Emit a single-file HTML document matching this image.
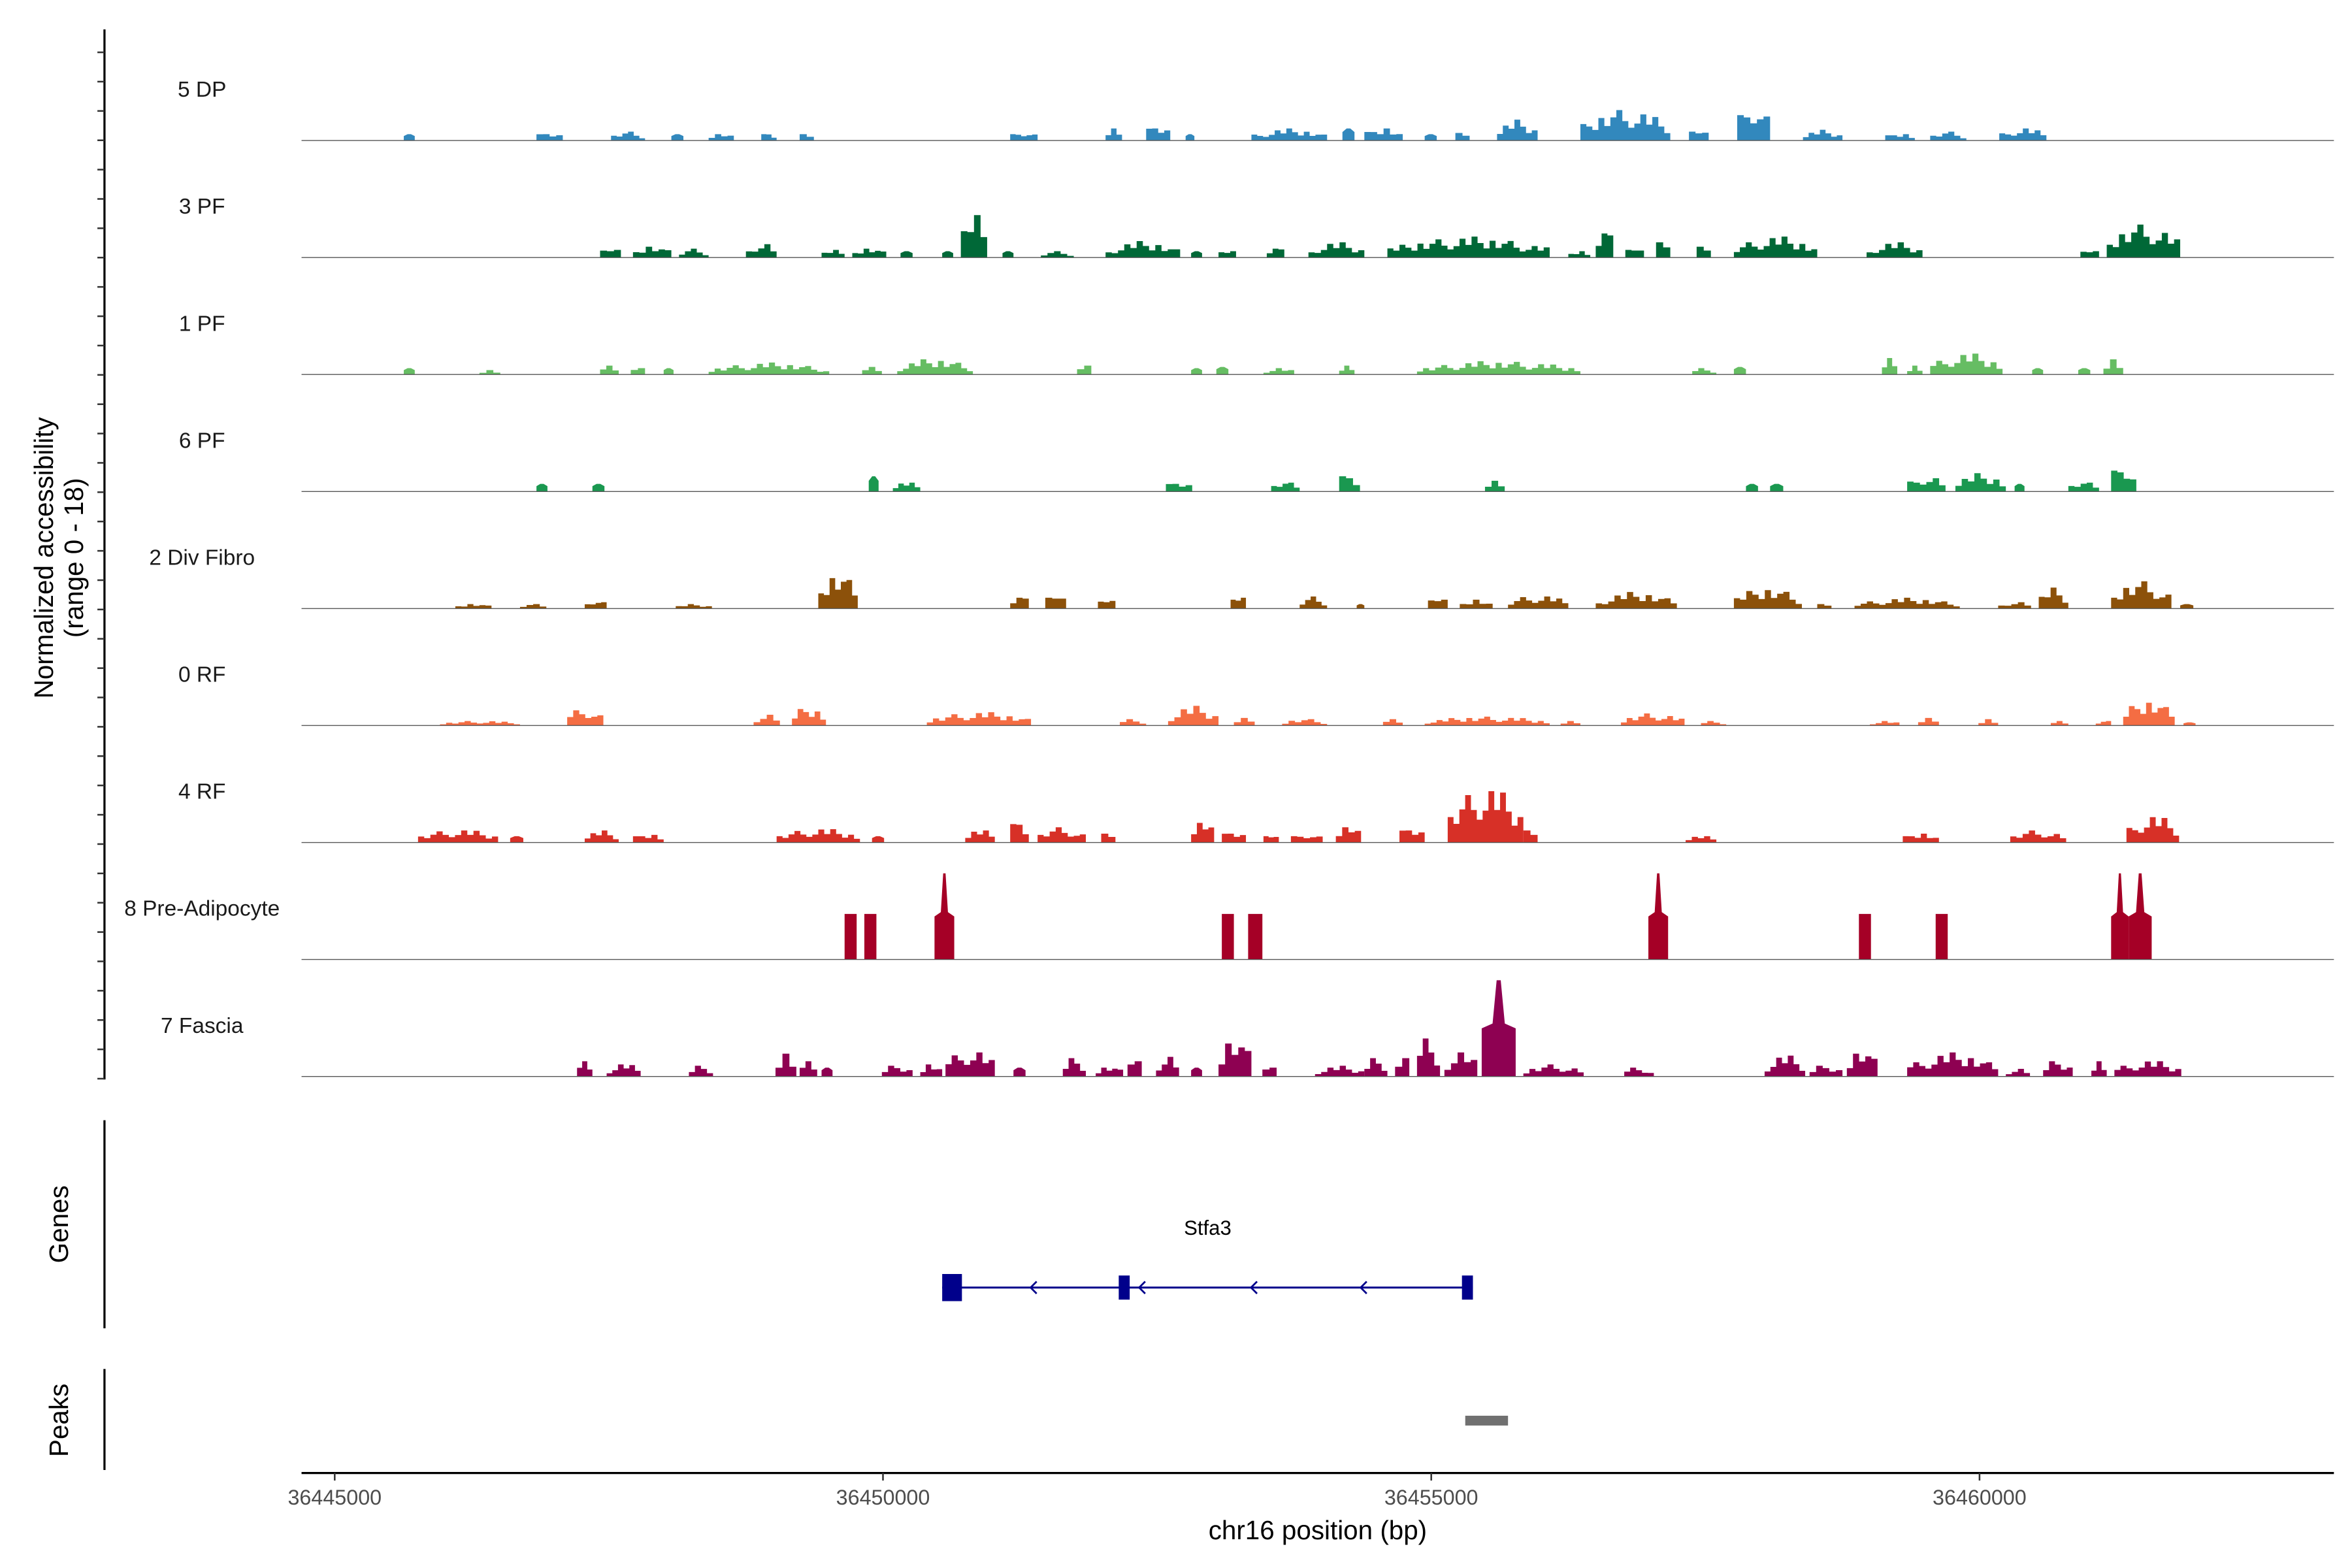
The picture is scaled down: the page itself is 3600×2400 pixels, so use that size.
<!DOCTYPE html>
<html><head><meta charset="utf-8"><style>
html,body{margin:0;padding:0;background:#fff}
svg{display:block;font-family:"Liberation Sans",Arial,sans-serif}
</style></head><body>
<svg id="chart" xmlns="http://www.w3.org/2000/svg" width="3600" height="2400" viewBox="0 0 1560 1040">
<rect x="0" y="0" width="1560" height="1040" fill="#fff"/>
<g id="tracks"></g>
<g id="axes"></g>
</svg>
<script>
// genomic positions in kb
const xTicks = [36445000, 36450000, 36455000, 36460000];
const trackNames = ["5 DP","3 PF","1 PF","6 PF","2 Div Fibro","0 RF","4 RF","8 Pre-Adipocyte","7 Fascia"];
const trackColors = ["#3288bd","#006837","#66bd63","#1a9850","#8c510a","#f46d43","#d73027","#a50026","#8e0152"];

const dpStarts = [36445.63,36446.84,36447.52,36448.07,36448.41,36448.89,36449.24,36451.16,36452.03,36452.40,36452.76,36453.36,36454.19,36454.39,36454.94,36455.22,36455.60,36456.36,36457.35,36457.79,36458.39,36459.14,36459.55,36460.18];
const dpEnds = [36445.73,36447.08,36447.83,36448.18,36448.64,36449.03,36449.37,36451.41,36452.18,36452.62,36452.84,36454.05,36454.30,36454.74,36455.05,36455.35,36455.97,36457.18,36457.53,36458.09,36458.75,36459.41,36459.88,36460.61];
const dpHeights = [1,1,1.4,1,1,1,1,1,1.9,1.9,1,1.9,1.9,1.9,1,1.2,3.3,4.8,1.4,4,1.7,1,1.4,1.9];

const pf3Starts = [36447.42,36447.72,36448.14,36448.75,36449.44,36449.72,36450.16,36450.54,36450.71,36451.09,36451.44,36452.03,36452.81,36453.06,36453.50,36453.88,36454.60,36456.25,36456.50,36456.77,36457.05,36457.42,36457.76,36458.97,36460.92,36461.16];
const pf3Ends = [36447.61,36448.07,36448.41,36449.03,36449.65,36450.03,36450.27,36450.64,36450.95,36451.19,36451.74,36452.71,36452.91,36453.22,36453.66,36454.39,36456.08,36456.45,36456.66,36456.94,36457.18,36457.55,36458.52,36459.48,36461.09,36461.83];
const pf3Heights = [1.2,1.7,1.4,2.1,1.2,1.4,1,1,6.7,1,1,2.6,1,1,1.4,2.4,3.3,1,3.8,1.2,2.4,1.7,3.3,2.4,1,5.2];

const pf1Starts = [36445.63,36446.32,36447.42,36447.70,36448.00,36448.41,36449.81,36450.13,36451.77,36452.81,36453.04,36453.47,36454.16,36454.87,36457.38,36457.76,36459.11,36459.34,36459.55,36460.48,36460.90,36461.13];
const pf1Ends = [36445.73,36446.51,36447.59,36447.83,36448.09,36449.51,36449.99,36450.82,36451.90,36452.91,36453.15,36453.75,36454.30,36456.36,36457.60,36457.87,36459.25,36459.48,36460.21,36460.58,36461.01,36461.31];
const pf1Heights = [1,0.7,1.4,1,1,1.9,1.2,2.4,1.4,1,1.2,1,1.4,2.1,1,1.2,2.6,1.4,3.3,1,1,2.4];

const pf6Starts = [36446.84,36447.35,36449.87,36450.09,36452.58,36453.54,36454.16,36455.49,36457.87,36458.09,36459.34,36459.78,36460.32,36460.81,36461.20];
const pf6Ends = [36446.94,36447.46,36449.96,36450.34,36452.82,36453.80,36454.35,36455.67,36457.98,36458.21,36459.69,36460.24,36460.41,36461.09,36461.43];
const pf6Heights = [1.2,1.2,2.4,1.4,1.2,1.4,2.4,1.7,1.2,1.2,2.1,2.9,1.2,1.4,3.3];

const dfStarts = [36446.10,36446.69,36447.28,36448.11,36449.41,36451.16,36451.48,36451.96,36453.17,36453.80,36454.32,36454.97,36455.26,36455.70,36456.50,36457.76,36458.52,36458.86,36460.17,36460.54,36461.20,36461.83];
const dfEnds = [36446.43,36446.93,36447.48,36448.44,36449.77,36451.33,36451.67,36452.12,36453.31,36454.05,36454.39,36455.15,36455.56,36456.25,36457.24,36458.38,36458.65,36459.82,36460.47,36460.81,36461.75,36461.95];
const dfHeights = [0.7,0.7,1,0.7,4.8,1.7,1.7,1.2,1.7,1.9,0.7,1.4,1.4,1.9,2.6,2.9,0.7,1.7,1,3.3,4.3,0.7];

const rf0Starts = [36445.96,36447.12,36448.82,36449.17,36450.40,36452.16,36452.60,36453.20,36453.64,36454.56,36454.94,36456.18,36456.73,36457.46,36459.00,36459.44,36459.99,36460.65,36461.06,36461.31,36461.86];
const rf0Ends = [36446.69,36447.45,36449.06,36449.48,36451.35,36452.40,36453.06,36453.39,36454.05,36454.74,36456.08,36456.36,36457.31,36457.69,36459.27,36459.63,36460.17,36460.81,36461.20,36461.78,36461.97];
const rf0Heights = [0.7,2.4,1.7,2.6,2.1,1,3.1,1.2,1,1,1.4,0.7,1.9,0.7,0.7,1.2,1,0.7,0.7,3.6,0.5];

const rf4Starts = [36445.76,36446.60,36447.28,36447.72,36449.03,36449.90,36450.75,36451.16,36451.41,36451.99,36452.81,36453.09,36453.47,36453.72,36454.13,36454.71,36455.15,36455.84,36457.32,36459.30,36460.28,36461.34];
const rf4Ends = [36446.49,36446.72,36447.59,36448.00,36449.79,36450.01,36451.02,36451.33,36451.85,36452.12,36453.02,36453.31,36453.61,36454.01,36454.36,36454.94,36455.84,36455.97,36457.60,36459.63,36460.79,36461.82];
const rf4Heights = [1.9,1,1.9,1.2,2.1,1,1.9,2.9,2.4,1.4,3.1,1.4,1,1,2.4,1.9,8.1,1.9,1,1.4,1.9,4];

const paStarts = [36449.65,36449.83,36450.47,36453.09,36453.33,36456.98,36458.90,36459.60,36461.20,36461.36];
const paEnds = [36449.76,36449.94,36450.65,36453.20,36453.46,36457.16,36459.01,36459.71,36461.36,36461.57];
const paHeights = [7.2,7.2,13.6,7.2,7.2,13.6,7.2,7.2,13.6,13.6];

const faStarts = [36447.21,36447.48,36448.23,36449.02,36449.24,36449.44,36449.99,36450.34,36450.57,36451.19,36451.64,36451.94,36452.23,36452.49,36452.81,36453.06,36453.46,36453.94,36454.39,36454.67,36454.87,36455.12,36455.46,36455.84,36456.76,36458.04,36458.45,36458.79,36459.34,36460.24,36460.58,36461.02,36461.23];
const faEnds = [36447.35,36447.79,36448.45,36449.21,36449.40,36449.54,36450.27,36450.54,36451.02,36451.30,36451.85,36452.19,36452.36,36452.70,36452.91,36453.36,36453.59,36454.39,36454.60,36454.80,36455.08,36455.42,36455.77,36456.39,36457.03,36458.41,36458.75,36459.07,36460.17,36460.46,36460.85,36461.16,36461.84];
const faHeights = [2.4,1.9,1.7,3.6,2.4,1.4,1.7,1.9,3.8,1.4,2.9,1.4,2.4,3.1,1.4,5.2,1.4,1.7,2.9,2.9,6,3.8,15.2,1.9,1.4,3.3,1.7,3.6,3.8,1.2,2.4,2.4,2.4];

const exonStarts = [36450.54, 36452.15, 36455.28];
const exonEnds = [36450.72, 36452.25, 36455.38];
const arrowPositions = [36451.36, 36452.35, 36453.37, 36454.37];
const peakStart = [36455.31];
const peakEnd = [36455.70];

const trackStarts = [dpStarts,pf3Starts,pf1Starts,pf6Starts,dfStarts,rf0Starts,rf4Starts,paStarts,faStarts];
const trackEnds = [dpEnds,pf3Ends,pf1Ends,pf6Ends,dfEnds,rf0Ends,rf4Ends,paEnds,faEnds];
const trackHeights = [dpHeights,pf3Heights,pf1Heights,pf6Heights,dfHeights,rf0Heights,rf4Heights,paHeights,faHeights];

// jagged outline style (shape only)
const TOOTH = [0.55,0.9,0.6,1,0.7,0.45,0.85,0.5,0.75,0.95,0.6,0.4];

const NS = "http://www.w3.org/2000/svg";
const X0 = 200, X1 = 1548;
function xScale(kb){ return 222 + (kb - 36445) * 72.73; }
function yUnit(v){ return v * 4.2; }
function baseY(i){ return 93.2 + i * 77.6; }
function mk(tag, attrs, parent){ const e = document.createElementNS(NS, tag); for (const k in attrs) e.setAttribute(k, attrs[k]); parent.appendChild(e); return e; }

const tg = document.getElementById('tracks');
const ax = document.getElementById('axes');

function profile(x0, x1, by, hp, big, flat, seed){
  const w = x1 - x0;
  if (big) {
    const edge = hp * 0.5, cx = (x0 + x1) / 2, tip = Math.max(0.5, w * 0.06);
    return [[x0,by],[x0,by-edge],[cx-tip*3,by-edge*1.1],[cx-tip,by-hp],[cx+tip,by-hp],[cx+tip*3,by-edge*1.1],[x1,by-edge],[x1,by]];
  }
  if (flat) return [[x0,by],[x0,by-hp],[x1,by-hp],[x1,by]];
  if (w < 9) return [[x0,by],[x0,by-hp*0.7],[x0+w*0.35,by-hp],[x1-w*0.35,by-hp],[x1,by-hp*0.7],[x1,by]];
  const n = Math.max(2, Math.round(w / 4));
  const pts = [[x0,by]];
  let vals = [];
  for (let j = 0; j < n; j++) {
    const f = (j + 0.5) / n;
    const taper = 0.45 + 0.55 * Math.sin(Math.PI * f);
    vals.push(TOOTH[(j + seed) % TOOTH.length] * taper);
  }
  const m = Math.max(...vals);
  for (let j = 0; j < n; j++) {
    const xa = x0 + j * w / n, xb = x0 + (j + 1) * w / n, y = by - hp * vals[j] / m;
    pts.push([xa, y]); pts.push([xb, y]);
  }
  pts.push([x1,by]);
  return pts;
}

for (let t = 0; t < trackNames.length; t++) {
  const by = baseY(t);
  const g = mk('g', {}, tg);
  
  
  const lab = mk('text', {x: 134, y: by - 29, 'text-anchor': 'middle', 'font-size': 14.5, fill: '#1a1a1a'}, g);
  lab.textContent = trackNames[t];
  
  
  const s = trackStarts[t], e = trackEnds[t], h = trackHeights[t];
  const flat = t === 7;
  for (let i = 0; i < s.length; i++) {
    const x0 = xScale(s[i]), x1 = xScale(e[i]), hp = yUnit(h[i]);
    const pts = profile(x0, x1, by, hp, h[i] >= 10, flat, i * 3 + t);
    const p = mk('polygon', {points: pts.map(q => q[0].toFixed(2) + ',' + q[1].toFixed(2)).join(' '), fill: trackColors[t]}, g);
    
    
  }
  const bl = mk('line', {x1: X0, x2: X1, y1: by, y2: by, stroke: '#555', 'stroke-width': 0.6}, g);
  
  
}

// left y axis
const ya = mk('line', {x1: 69.3, x2: 69.3, y1: 19.5, y2: 716, stroke: '#000', 'stroke-width': 1.4}, ax);


for (let k = 0; k < 36; k++) {
  const y = 34.7 + k * 19.45;
  const tk = mk('line', {x1: 64.6, x2: 69.3, y1: y, y2: y, stroke: '#333', 'stroke-width': 1.1}, ax);
  
  
}
const yt = mk('text', {transform: 'translate(35,370) rotate(-90)', 'text-anchor': 'middle', 'font-size': 17.5, fill: '#000'}, ax);


const ts1 = mk('tspan', {x: 0, dy: 0}, yt); ts1.textContent = 'Normalized accessibility';
const ts2 = mk('tspan', {x: 0, dy: 20}, yt); ts2.textContent = '(range 0 - 18)';

// genes panel
const ga = mk('line', {x1: 69.3, x2: 69.3, y1: 743, y2: 881, stroke: '#000', 'stroke-width': 1.4}, ax);


const gl = mk('text', {transform: 'translate(45,812) rotate(-90)', 'text-anchor': 'middle', 'font-size': 17.5}, ax);
gl.textContent = 'Genes';


const gene = mk('g', {}, ax);


const gn = mk('text', {x: 801, y: 819, 'text-anchor': 'middle', 'font-size': 13.5}, gene);
gn.textContent = 'Stfa3';


mk('line', {x1: xScale(exonStarts[0]), x2: xScale(exonEnds[exonEnds.length-1]), y1: 854, y2: 854, stroke: '#00008b', 'stroke-width': 1.3}, gene);
for (let i = 0; i < exonStarts.length; i++) {
  const ex = mk('rect', {x: xScale(exonStarts[i]), y: i === 0 ? 845 : 846, width: xScale(exonEnds[i]) - xScale(exonStarts[i]), height: i === 0 ? 18 : 16, fill: '#00008b'}, gene);
  
  
}
for (const a of arrowPositions) {
  const x = xScale(a);
  const ar = mk('polyline', {points: `${x+3},850 ${x-1},854 ${x+3},858`, fill: 'none', stroke: '#00008b', 'stroke-width': 1.2}, gene);
  
  
}

// peaks panel
const pa = mk('line', {x1: 69.3, x2: 69.3, y1: 908, y2: 975, stroke: '#000', 'stroke-width': 1.4}, ax);


const pl = mk('text', {transform: 'translate(45,942) rotate(-90)', 'text-anchor': 'middle', 'font-size': 17.5}, ax);
pl.textContent = 'Peaks';


for (let i = 0; i < peakStart.length; i++) {
  const pr = mk('rect', {x: xScale(peakStart[i]), y: 939, width: xScale(peakEnd[i]) - xScale(peakStart[i]), height: 6.5, fill: '#707070'}, ax);
  
  
}

// x axis
const xa = mk('line', {x1: X0, x2: X1, y1: 977, y2: 977, stroke: '#000', 'stroke-width': 1.4}, ax);


for (const t of xTicks) {
  const x = xScale(t / 1000);
  const tk = mk('line', {x1: x, x2: x, y1: 977, y2: 982, stroke: '#333', 'stroke-width': 1.1}, ax);
  
  
  const tl = mk('text', {x: x, y: 998, 'text-anchor': 'middle', 'font-size': 14, fill: '#4d4d4d'}, ax);
  tl.textContent = String(t);
  
  
}
const xt = mk('text', {x: 874, y: 1021, 'text-anchor': 'middle', 'font-size': 17.5}, ax);
xt.textContent = 'chr16 position (bp)';


</script>
</body></html>
